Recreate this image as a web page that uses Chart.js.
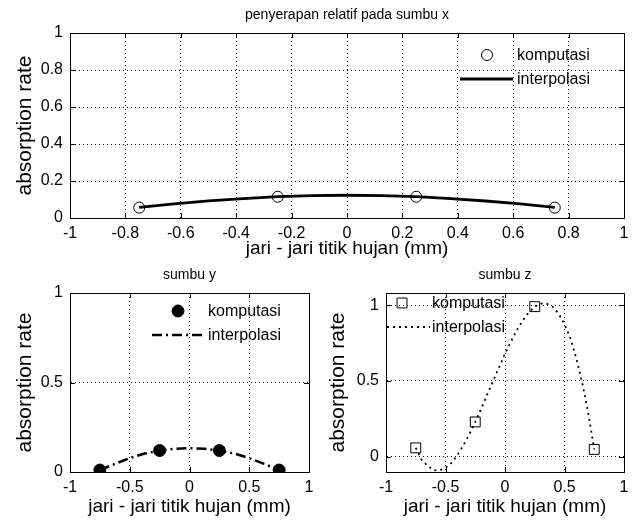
<!DOCTYPE html>
<html>
<head>
<meta charset="utf-8">
<script src="https://cdn.jsdelivr.net/npm/chart.js@4.4.0/dist/chart.umd.min.js"></script>
<style>
  html, body { margin: 0; padding: 0; background: #fff; }
  body { width: 635px; height: 523px; position: relative; overflow: hidden; }
  canvas { position: absolute; }
  #plotX { left: 0; top: 0; }
  #plotY { left: 0; top: 260px; }
  #plotZ { left: 320px; top: 260px; }
</style>
</head>
<body>
<canvas id="plotX" width="635" height="262"></canvas>
<canvas id="plotY" width="320" height="263"></canvas>
<canvas id="plotZ" width="315" height="263"></canvas>
<script>
// jari-jari titik hujan (mm) of the computed points
const radiusComputed = [-0.75, -0.25, 0.25, 0.75];

// sumbu x
const computedX = [0.056, 0.115, 0.115, 0.056];
const radiusInterpXY = [-0.75, -0.625, -0.5, -0.375, -0.25, -0.125, 0, 0.125, 0.25, 0.375, 0.5, 0.625, 0.75];
const interpX = [0.058, 0.076, 0.092, 0.105, 0.115, 0.121, 0.123, 0.121, 0.115, 0.105, 0.092, 0.076, 0.058];

// sumbu y
const computedY = [0.011, 0.12, 0.12, 0.011];
const interpY = [0.011, 0.045, 0.078, 0.103, 0.12, 0.13, 0.133, 0.13, 0.12, 0.103, 0.078, 0.045, 0.011];

// sumbu z
const computedZ = [0.059, 0.23, 0.99, 0.049];
const radiusInterpZ = [-0.75, -0.7, -0.65, -0.6, -0.55, -0.5, -0.45, -0.4, -0.35, -0.3, -0.25, -0.2, -0.15, -0.1, -0.05,
                       0, 0.05, 0.1, 0.15, 0.2, 0.25, 0.3, 0.35, 0.4, 0.45, 0.5, 0.55, 0.6, 0.65, 0.7, 0.75];
const interpZ = [0.059, -0.02, -0.06, -0.088, -0.09, -0.072, -0.04, 0.012, 0.075, 0.148, 0.23, 0.317, 0.41, 0.5, 0.59,
                 0.68, 0.76, 0.836, 0.9, 0.952, 0.99, 1.01, 1.01, 0.99, 0.945, 0.875, 0.78, 0.647, 0.484, 0.286, 0.049];

// tick labels
const ticksTopX = [-1, -0.8, -0.6, -0.4, -0.2, 0, 0.2, 0.4, 0.6, 0.8, 1];
const ticksTopY = [0, 0.2, 0.4, 0.6, 0.8, 1];
const ticksSmallX = [-1, -0.5, 0, 0.5, 1];
const ticksSmallY = [0, 0.5, 1];

const xLabel = 'jari - jari titik hujan (mm)';
const yLabel = 'absorption rate';

const FONT = '"Liberation Sans", Arial, sans-serif';
Chart.defaults.font.family = FONT;
Chart.defaults.color = '#000';

const toPoints = (xs, ys) => xs.map((x, i) => ({ x: x, y: ys[i] }));

function drawMarker(ctx, ds, x, y) {
    ctx.fillStyle = ds.pointBackgroundColor;
    ctx.strokeStyle = ds.pointBorderColor;
    Chart.helpers.drawPoint(ctx, {
        pointStyle: ds.pointStyle,
        radius: ds.pointRadius,
        borderWidth: ds.pointBorderWidth,
        rotation: 0
    }, x, y);
}

// matlab style box with inward ticks, title centered over the axes
const matlabBox = {
    id: 'matlabBox',
    afterDraw(chart, args, opts) {
        const { ctx, chartArea: a, scales } = chart;
        const len = 5;
        ctx.save();
        ctx.strokeStyle = '#000';
        ctx.lineWidth = 1;
        ctx.setLineDash([]);
        ctx.beginPath();
        ctx.rect(Math.round(a.left) + 0.5, Math.round(a.top) + 0.5,
                 Math.round(a.right - a.left), Math.round(a.bottom - a.top));
        scales.x.ticks.forEach(t => {
            const px = Math.round(scales.x.getPixelForValue(t.value)) + 0.5;
            ctx.moveTo(px, a.bottom); ctx.lineTo(px, a.bottom - len);
            ctx.moveTo(px, a.top); ctx.lineTo(px, a.top + len);
        });
        scales.y.ticks.forEach(t => {
            const py = Math.round(scales.y.getPixelForValue(t.value)) + 0.5;
            ctx.moveTo(a.left, py); ctx.lineTo(a.left + len, py);
            ctx.moveTo(a.right, py); ctx.lineTo(a.right - len, py);
        });
        ctx.stroke();

        ctx.font = opts.font;
        ctx.fillStyle = '#000';
        ctx.textAlign = 'center';
        ctx.textBaseline = 'middle';
        ctx.fillText(opts.title, (a.left + a.right) / 2, opts.titleY);
        ctx.restore();
    }
};

// legend without box, drawn at fixed spots like in matlab
const matlabLegend = {
    id: 'matlabLegend',
    afterDraw(chart, args, opts) {
        const ctx = chart.ctx;
        ctx.save();
        ctx.font = opts.font;
        ctx.textBaseline = 'middle';
        opts.rows.forEach(row => {
            const ds = chart.data.datasets[row.dataset];
            if (ds.showLine) {
                ctx.strokeStyle = ds.borderColor;
                ctx.lineWidth = ds.borderWidth;
                ctx.setLineDash(ds.borderDash || []);
                ctx.beginPath();
                ctx.moveTo(row.x0, row.y);
                ctx.lineTo(row.x1, row.y);
                ctx.stroke();
                ctx.setLineDash([]);
            } else {
                drawMarker(ctx, ds, (row.x0 + row.x1) / 2, row.y);
            }
            ctx.fillStyle = '#000';
            ctx.fillText(ds.label, row.tx, row.y + 1);
        });
        ctx.restore();
    }
};

function makePlot(id, cfg) {
    const ctx = document.getElementById(id).getContext('2d');
    new Chart(ctx, {
        type: 'scatter',
        data: { datasets: cfg.datasets },
        options: {
            responsive: false,
            animation: false,
            events: [],
            layout: { padding: { left: 0, right: 11, top: 33, bottom: 0 } },
            plugins: {
                legend: { display: false },
                tooltip: { enabled: false },
                title: { display: false },
                matlabBox: { title: cfg.title, titleY: 15, font: '14px ' + FONT },
                matlabLegend: { font: '16px ' + FONT, rows: cfg.legendRows }
            },
            scales: {
                x: {
                    type: 'linear',
                    min: cfg.xTicks[0],
                    max: cfg.xTicks[cfg.xTicks.length - 1],
                    afterBuildTicks: s => { s.ticks = cfg.xTicks.map(v => ({ value: v })); },
                    afterFit: s => { s.height = cfg.xHeight; },
                    grid: { color: '#000', lineWidth: 1, drawTicks: false },
                    border: { color: '#000', dash: [1, 3] },
                    ticks: { padding: 6, maxRotation: 0, autoSkip: false, font: { size: 16 }, callback: v => String(v) },
                    title: { display: true, text: xLabel, font: { size: 19 }, padding: { top: 0, bottom: cfg.xTitlePad } }
                },
                y: {
                    type: 'linear',
                    min: cfg.yMin,
                    max: cfg.yMax,
                    afterBuildTicks: s => { s.ticks = cfg.yTicks.map(v => ({ value: v })); },
                    afterFit: s => { s.width = cfg.yWidth; },
                    grid: { color: '#000', lineWidth: 1, drawTicks: false },
                    border: { color: '#000', dash: [1, 3] },
                    ticks: { padding: 7, autoSkip: false, font: { size: 16 }, callback: v => String(v) },
                    title: { display: true, text: yLabel, font: { size: 21 }, padding: { top: cfg.yTitlePad, bottom: 0 } }
                }
            }
        },
        plugins: [matlabBox, matlabLegend]
    });
}

makePlot('plotX', {
    title: 'penyerapan relatif pada sumbu x',
    xTicks: ticksTopX, yTicks: ticksTopY, yMin: 0, yMax: 1,
    xHeight: 44, yWidth: 70, xTitlePad: 1.6, yTitlePad: 12.4,
    datasets: [
        { label: 'komputasi', data: toPoints(radiusComputed, computedX), showLine: false, order: 1,
          pointStyle: 'circle', pointRadius: 5.5, pointBorderWidth: 1,
          pointBackgroundColor: 'rgba(0,0,0,0)', pointBorderColor: '#000' },
        { label: 'interpolasi', data: toPoints(radiusInterpXY, interpX), showLine: true, order: 0,
          borderColor: '#000', borderWidth: 2.8, pointRadius: 0, tension: 0 }
    ],
    legendRows: [
        { dataset: 0, x0: 474, x1: 500, y: 55, tx: 517 },
        { dataset: 1, x0: 460, x1: 513, y: 79, tx: 517 }
    ]
});

makePlot('plotY', {
    title: 'sumbu y',
    xTicks: ticksSmallX, yTicks: ticksSmallY, yMin: 0, yMax: 1,
    xHeight: 51, yWidth: 70, xTitlePad: 4.6, yTitlePad: 12.9,
    datasets: [
        { label: 'komputasi', data: toPoints(radiusComputed, computedY), showLine: false, order: 1,
          pointStyle: 'circle', pointRadius: 6, pointBorderWidth: 1,
          pointBackgroundColor: '#000', pointBorderColor: '#000' },
        { label: 'interpolasi', data: toPoints(radiusInterpXY, interpY), showLine: true, order: 0,
          borderColor: '#000', borderWidth: 2.5, borderDash: [10, 4, 2, 4], pointRadius: 0, tension: 0 }
    ],
    legendRows: [
        { dataset: 0, x0: 165, x1: 191, y: 51, tx: 208 },
        { dataset: 1, x0: 152, x1: 202, y: 75, tx: 208 }
    ]
});

makePlot('plotZ', {
    title: 'sumbu z',
    xTicks: ticksSmallX, yTicks: ticksSmallY, yMin: -0.1, yMax: 1.08,
    xHeight: 51, yWidth: 66, xTitlePad: 4.6, yTitlePad: 5.4,
    datasets: [
        { label: 'komputasi', data: toPoints(radiusComputed, computedZ), showLine: false, order: 1,
          pointStyle: 'rect', pointRadius: 7, pointBorderWidth: 1,
          pointBackgroundColor: 'rgba(0,0,0,0)', pointBorderColor: '#000' },
        { label: 'interpolasi', data: toPoints(radiusInterpZ, interpZ), showLine: true, order: 0,
          borderColor: '#000', borderWidth: 1.8, borderDash: [2, 4], pointRadius: 0, tension: 0 }
    ],
    legendRows: [
        { dataset: 0, x0: 69, x1: 95, y: 43, tx: 112 },
        { dataset: 1, x0: 67, x1: 110, y: 67, tx: 112 }
    ]
});
</script>
</body>
</html>
